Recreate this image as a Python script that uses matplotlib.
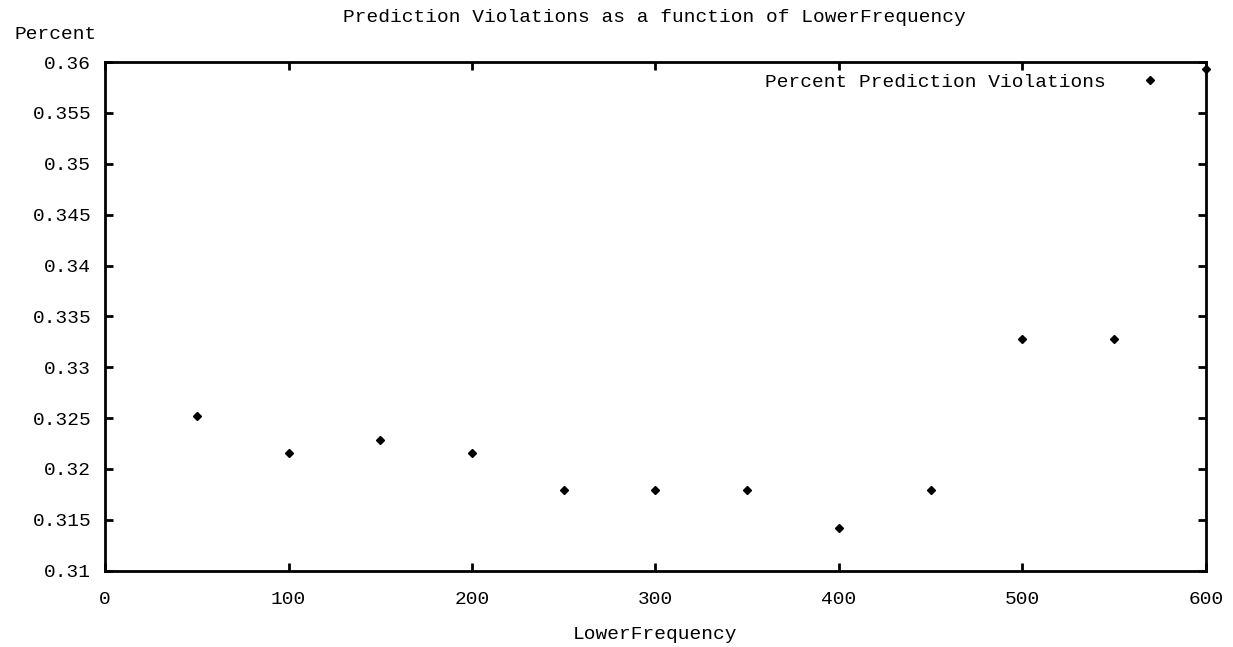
import matplotlib
matplotlib.use('Agg')
import matplotlib.pyplot as plt

# Данные
lower_frequency = [50, 100, 150, 200, 250, 300, 350, 400, 450, 500, 550, 600]
percent_violations = [0.3252, 0.3216, 0.3228, 0.3216, 0.3179, 0.3179,
                      0.3179, 0.3142, 0.3179, 0.3328, 0.3328, 0.3593]

x_ticks = [0, 100, 200, 300, 400, 500, 600]
y_ticks = [0.31, 0.315, 0.32, 0.325, 0.33, 0.335, 0.34, 0.345, 0.35, 0.355, 0.36]
y_tick_labels = ['0.31', '0.315', '0.32', '0.325', '0.33', '0.335',
                 '0.34', '0.345', '0.35', '0.355', '0.36']

plt.rcParams['font.family'] = ['Liberation Mono', 'DejaVu Sans Mono']
plt.rcParams['font.size'] = 14

fig = plt.figure(figsize=(12.33, 6.47), dpi=100)
ax = fig.add_axes([0.0852, 0.118, 0.8928, 0.786])

ax.plot(lower_frequency, percent_violations, linestyle='none', marker='D',
        markersize=4.2, color='black', clip_on=False,
        label='Percent Prediction Violations')

ax.set_xlim(0, 600)
ax.set_ylim(0.31, 0.36)
ax.set_xticks(x_ticks)
ax.set_yticks(y_ticks)
ax.set_yticklabels(y_tick_labels)

# Засечки внутрь, со всех сторон, как в gnuplot
ax.tick_params(direction='in', length=6, width=2, top=True, right=True,
               labeltop=False, labelright=False)
ax.tick_params(axis='x', pad=15)
ax.tick_params(axis='y', pad=10)
for spine in ax.spines.values():
    spine.set_linewidth(2)

fig.text(0.531, 0.973, 'Prediction Violations as a function of LowerFrequency',
         ha='center', va='center')
fig.text(0.045, 0.946, 'Percent', ha='center', va='center')
fig.text(0.531, 0.020, 'LowerFrequency', ha='center', va='center')

ax.legend(loc='upper right', frameon=False, markerfirst=False,
          handlelength=1.5, handletextpad=1.54,
          bbox_to_anchor=(0.977, 1.008), borderaxespad=0.4)

fig.savefig('out.png', dpi=100)
